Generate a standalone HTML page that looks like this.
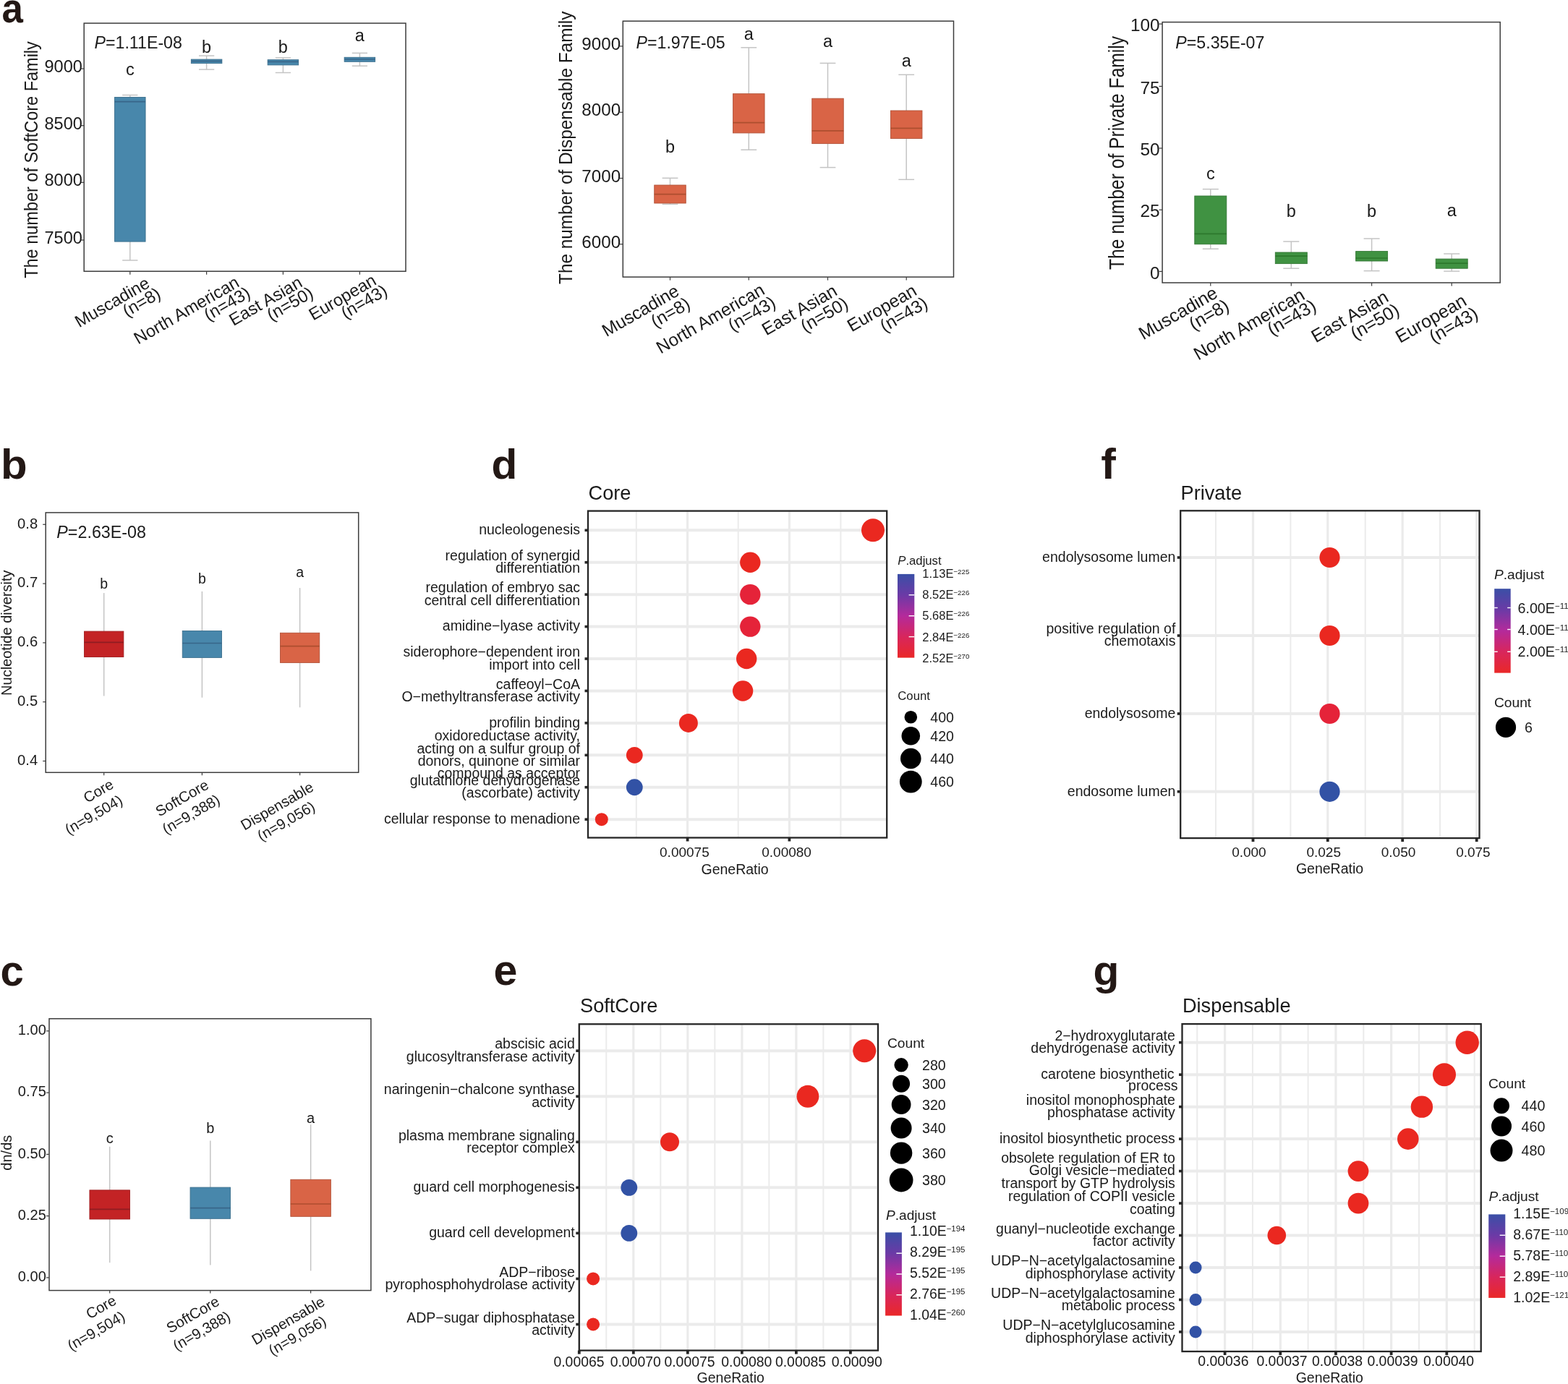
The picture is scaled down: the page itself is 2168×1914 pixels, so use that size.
<!DOCTYPE html><html><head><meta charset="utf-8"><title>Figure</title><style>html,body{margin:0;padding:0;background:#fff;}svg{display:block;font-family:"Liberation Sans",Arial,Helvetica,sans-serif;}</style></head><body>
<svg xmlns="http://www.w3.org/2000/svg" width="2168" height="1914" viewBox="0 0 2168 1914">
<rect x="0" y="0" width="2168" height="1914" fill="#ffffff"/>
<line x1="179.8" y1="131.5" x2="179.8" y2="134.5" stroke="#c4c4c4" stroke-width="1.5"/>
<line x1="179.8" y1="334.1" x2="179.8" y2="360" stroke="#c4c4c4" stroke-width="1.5"/>
<line x1="169.18" y1="131.5" x2="190.43" y2="131.5" stroke="#c4c4c4" stroke-width="1.5"/>
<line x1="169.18" y1="360" x2="190.43" y2="360" stroke="#c4c4c4" stroke-width="1.5"/>
<rect x="158.55" y="134.5" width="42.5" height="199.6" fill="#4887ab" stroke="#3b6e8c" stroke-width="0.9"/>
<line x1="158.55" y1="140.6" x2="201.05" y2="140.6" stroke="#386689" stroke-width="1.7"/>
<text x="179.8" y="104.4" font-size="23.5" text-anchor="middle" fill="#1a1a1a" >c</text>
<line x1="285.6" y1="77.1" x2="285.6" y2="82.1" stroke="#c4c4c4" stroke-width="1.5"/>
<line x1="285.6" y1="87.6" x2="285.6" y2="96.1" stroke="#c4c4c4" stroke-width="1.5"/>
<line x1="274.98" y1="77.1" x2="296.23" y2="77.1" stroke="#c4c4c4" stroke-width="1.5"/>
<line x1="274.98" y1="96.1" x2="296.23" y2="96.1" stroke="#c4c4c4" stroke-width="1.5"/>
<rect x="264.35" y="82.1" width="42.5" height="5.5" fill="#4887ab" stroke="#3b6e8c" stroke-width="0.9"/>
<line x1="264.35" y1="84.6" x2="306.85" y2="84.6" stroke="#386689" stroke-width="1.7"/>
<text x="285.6" y="73.2" font-size="23.5" text-anchor="middle" fill="#1a1a1a" >b</text>
<line x1="391.4" y1="79.9" x2="391.4" y2="82.7" stroke="#c4c4c4" stroke-width="1.5"/>
<line x1="391.4" y1="89.9" x2="391.4" y2="100.5" stroke="#c4c4c4" stroke-width="1.5"/>
<line x1="380.77" y1="79.9" x2="402.02" y2="79.9" stroke="#c4c4c4" stroke-width="1.5"/>
<line x1="380.77" y1="100.5" x2="402.02" y2="100.5" stroke="#c4c4c4" stroke-width="1.5"/>
<rect x="370.15" y="82.7" width="42.5" height="7.2" fill="#4887ab" stroke="#3b6e8c" stroke-width="0.9"/>
<line x1="370.15" y1="85.4" x2="412.65" y2="85.4" stroke="#386689" stroke-width="1.7"/>
<text x="391.4" y="72.7" font-size="23.5" text-anchor="middle" fill="#1a1a1a" >b</text>
<line x1="497.4" y1="73.4" x2="497.4" y2="79.3" stroke="#c4c4c4" stroke-width="1.5"/>
<line x1="497.4" y1="85.3" x2="497.4" y2="91.2" stroke="#c4c4c4" stroke-width="1.5"/>
<line x1="486.77" y1="73.4" x2="508.02" y2="73.4" stroke="#c4c4c4" stroke-width="1.5"/>
<line x1="486.77" y1="91.2" x2="508.02" y2="91.2" stroke="#c4c4c4" stroke-width="1.5"/>
<rect x="476.15" y="79.3" width="42.5" height="6" fill="#4887ab" stroke="#3b6e8c" stroke-width="0.9"/>
<line x1="476.15" y1="82" x2="518.65" y2="82" stroke="#386689" stroke-width="1.7"/>
<text x="497.4" y="57.3" font-size="23.5" text-anchor="middle" fill="#1a1a1a" >a</text>
<rect x="116.2" y="32.1" width="444.8" height="343.1" fill="none" stroke="#3c3c3c" stroke-width="1.5"/>
<line x1="111.7" y1="95" x2="116.2" y2="95" stroke="#3c3c3c" stroke-width="1.2"/>
<text x="113.8" y="99.9" font-size="23.5" text-anchor="end" fill="#1a1a1a" >9000</text>
<line x1="111.7" y1="173.7" x2="116.2" y2="173.7" stroke="#3c3c3c" stroke-width="1.2"/>
<text x="113.8" y="178.6" font-size="23.5" text-anchor="end" fill="#1a1a1a" >8500</text>
<line x1="111.7" y1="252.3" x2="116.2" y2="252.3" stroke="#3c3c3c" stroke-width="1.2"/>
<text x="113.8" y="257.2" font-size="23.5" text-anchor="end" fill="#1a1a1a" >8000</text>
<line x1="111.7" y1="332" x2="116.2" y2="332" stroke="#3c3c3c" stroke-width="1.2"/>
<text x="113.8" y="336.9" font-size="23.5" text-anchor="end" fill="#1a1a1a" >7500</text>
<line x1="179.8" y1="375.2" x2="179.8" y2="379.7" stroke="#3c3c3c" stroke-width="1.2"/>
<line x1="285.6" y1="375.2" x2="285.6" y2="379.7" stroke="#3c3c3c" stroke-width="1.2"/>
<line x1="391.4" y1="375.2" x2="391.4" y2="379.7" stroke="#3c3c3c" stroke-width="1.2"/>
<line x1="497.4" y1="375.2" x2="497.4" y2="379.7" stroke="#3c3c3c" stroke-width="1.2"/>
<text x="130.5" y="66.6" font-size="23.2" fill="#1a1a1a"><tspan font-style="italic">P</tspan>=1.11E-08</text>
<text transform="translate(51.6,221) rotate(-90) scale(1,1.1)" x="0" y="0" font-size="23.5" text-anchor="middle" fill="#1a1a1a">The number of SoftCore Family</text>
<g transform="translate(208.6,396.2) rotate(-30)"><text x="0" y="0" font-size="23.7" text-anchor="end" fill="#1a1a1a">Muscadine</text><text x="6" y="20.2" font-size="23.7" text-anchor="end" fill="#1a1a1a">(n=8)</text></g>
<g transform="translate(332.5,395.2) rotate(-30)"><text x="0" y="0" font-size="23.7" text-anchor="end" fill="#1a1a1a">North American</text><text x="6" y="20.2" font-size="23.7" text-anchor="end" fill="#1a1a1a">(n=43)</text></g>
<g transform="translate(419.6,395.2) rotate(-30)"><text x="0" y="0" font-size="23.7" text-anchor="end" fill="#1a1a1a">East Asian</text><text x="6" y="20.2" font-size="23.7" text-anchor="end" fill="#1a1a1a">(n=50)</text></g>
<g transform="translate(522,392.3) rotate(-30)"><text x="0" y="0" font-size="23.7" text-anchor="end" fill="#1a1a1a">European</text><text x="6" y="20.2" font-size="23.7" text-anchor="end" fill="#1a1a1a">(n=43)</text></g>
<line x1="926.5" y1="246.3" x2="926.5" y2="256" stroke="#c4c4c4" stroke-width="1.5"/>
<line x1="926.5" y1="281" x2="926.5" y2="282.3" stroke="#c4c4c4" stroke-width="1.5"/>
<line x1="915.62" y1="246.3" x2="937.38" y2="246.3" stroke="#c4c4c4" stroke-width="1.5"/>
<line x1="915.62" y1="282.3" x2="937.38" y2="282.3" stroke="#c4c4c4" stroke-width="1.5"/>
<rect x="904.75" y="256" width="43.5" height="25" fill="#d96446" stroke="#b15239" stroke-width="0.9"/>
<line x1="904.75" y1="268.7" x2="948.25" y2="268.7" stroke="#ad4e2f" stroke-width="1.7"/>
<text x="926.5" y="211.4" font-size="23.5" text-anchor="middle" fill="#1a1a1a" >b</text>
<line x1="1035.3" y1="65.8" x2="1035.3" y2="129.7" stroke="#c4c4c4" stroke-width="1.5"/>
<line x1="1035.3" y1="183.9" x2="1035.3" y2="207.2" stroke="#c4c4c4" stroke-width="1.5"/>
<line x1="1024.42" y1="65.8" x2="1046.17" y2="65.8" stroke="#c4c4c4" stroke-width="1.5"/>
<line x1="1024.42" y1="207.2" x2="1046.17" y2="207.2" stroke="#c4c4c4" stroke-width="1.5"/>
<rect x="1013.55" y="129.7" width="43.5" height="54.2" fill="#d96446" stroke="#b15239" stroke-width="0.9"/>
<line x1="1013.55" y1="169.7" x2="1057.05" y2="169.7" stroke="#ad4e2f" stroke-width="1.7"/>
<text x="1035.3" y="55.3" font-size="23.5" text-anchor="middle" fill="#1a1a1a" >a</text>
<line x1="1144.5" y1="87.4" x2="1144.5" y2="136.2" stroke="#c4c4c4" stroke-width="1.5"/>
<line x1="1144.5" y1="198.6" x2="1144.5" y2="231.6" stroke="#c4c4c4" stroke-width="1.5"/>
<line x1="1133.62" y1="87.4" x2="1155.38" y2="87.4" stroke="#c4c4c4" stroke-width="1.5"/>
<line x1="1133.62" y1="231.6" x2="1155.38" y2="231.6" stroke="#c4c4c4" stroke-width="1.5"/>
<rect x="1122.75" y="136.2" width="43.5" height="62.4" fill="#d96446" stroke="#b15239" stroke-width="0.9"/>
<line x1="1122.75" y1="180.8" x2="1166.25" y2="180.8" stroke="#ad4e2f" stroke-width="1.7"/>
<text x="1144.5" y="64.7" font-size="23.5" text-anchor="middle" fill="#1a1a1a" >a</text>
<line x1="1253.2" y1="103.3" x2="1253.2" y2="153" stroke="#c4c4c4" stroke-width="1.5"/>
<line x1="1253.2" y1="191.5" x2="1253.2" y2="248.3" stroke="#c4c4c4" stroke-width="1.5"/>
<line x1="1242.33" y1="103.3" x2="1264.08" y2="103.3" stroke="#c4c4c4" stroke-width="1.5"/>
<line x1="1242.33" y1="248.3" x2="1264.08" y2="248.3" stroke="#c4c4c4" stroke-width="1.5"/>
<rect x="1231.45" y="153" width="43.5" height="38.5" fill="#d96446" stroke="#b15239" stroke-width="0.9"/>
<line x1="1231.45" y1="177.4" x2="1274.95" y2="177.4" stroke="#ad4e2f" stroke-width="1.7"/>
<text x="1253.2" y="92.2" font-size="23.5" text-anchor="middle" fill="#1a1a1a" >a</text>
<rect x="861.3" y="29.2" width="457.2" height="353.9" fill="none" stroke="#3c3c3c" stroke-width="1.5"/>
<line x1="856.8" y1="63.9" x2="861.3" y2="63.9" stroke="#3c3c3c" stroke-width="1.2"/>
<text x="858.1" y="69.05" font-size="24.2" text-anchor="end" fill="#1a1a1a" >9000</text>
<line x1="856.8" y1="155.3" x2="861.3" y2="155.3" stroke="#3c3c3c" stroke-width="1.2"/>
<text x="858.1" y="160.45" font-size="24.2" text-anchor="end" fill="#1a1a1a" >8000</text>
<line x1="856.8" y1="246.5" x2="861.3" y2="246.5" stroke="#3c3c3c" stroke-width="1.2"/>
<text x="858.1" y="251.65" font-size="24.2" text-anchor="end" fill="#1a1a1a" >7000</text>
<line x1="856.8" y1="337.7" x2="861.3" y2="337.7" stroke="#3c3c3c" stroke-width="1.2"/>
<text x="858.1" y="342.85" font-size="24.2" text-anchor="end" fill="#1a1a1a" >6000</text>
<line x1="926.5" y1="383.1" x2="926.5" y2="387.6" stroke="#3c3c3c" stroke-width="1.2"/>
<line x1="1035.3" y1="383.1" x2="1035.3" y2="387.6" stroke="#3c3c3c" stroke-width="1.2"/>
<line x1="1144.5" y1="383.1" x2="1144.5" y2="387.6" stroke="#3c3c3c" stroke-width="1.2"/>
<line x1="1253.2" y1="383.1" x2="1253.2" y2="387.6" stroke="#3c3c3c" stroke-width="1.2"/>
<text x="879.5" y="66.7" font-size="23.2" fill="#1a1a1a"><tspan font-style="italic">P</tspan>=1.97E-05</text>
<text transform="translate(790.9,204.3) rotate(-90) scale(1,1.04)" x="0" y="0" font-size="24.35" text-anchor="middle" fill="#1a1a1a">The number of Dispensable Family</text>
<g transform="translate(940.7,407.3) rotate(-30)"><text x="0" y="0" font-size="24.4" text-anchor="end" fill="#1a1a1a">Muscadine</text><text x="4.5" y="22.8" font-size="24.4" text-anchor="end" fill="#1a1a1a">(n=8)</text></g>
<g transform="translate(1059,405.6) rotate(-30)"><text x="0" y="0" font-size="24.4" text-anchor="end" fill="#1a1a1a">North American</text><text x="4.5" y="22.8" font-size="24.4" text-anchor="end" fill="#1a1a1a">(n=43)</text></g>
<g transform="translate(1159.3,406.9) rotate(-30)"><text x="0" y="0" font-size="24.4" text-anchor="end" fill="#1a1a1a">East Asian</text><text x="4.5" y="22.8" font-size="24.4" text-anchor="end" fill="#1a1a1a">(n=50)</text></g>
<g transform="translate(1269.2,406.6) rotate(-30)"><text x="0" y="0" font-size="24.4" text-anchor="end" fill="#1a1a1a">European</text><text x="4.5" y="22.8" font-size="24.4" text-anchor="end" fill="#1a1a1a">(n=43)</text></g>
<line x1="1673.8" y1="261.6" x2="1673.8" y2="271" stroke="#c4c4c4" stroke-width="1.5"/>
<line x1="1673.8" y1="337.7" x2="1673.8" y2="344.2" stroke="#c4c4c4" stroke-width="1.5"/>
<line x1="1662.8" y1="261.6" x2="1684.8" y2="261.6" stroke="#c4c4c4" stroke-width="1.5"/>
<line x1="1662.8" y1="344.2" x2="1684.8" y2="344.2" stroke="#c4c4c4" stroke-width="1.5"/>
<rect x="1651.8" y="271" width="44" height="66.7" fill="#409242" stroke="#347736" stroke-width="0.9"/>
<line x1="1651.8" y1="323.4" x2="1695.8" y2="323.4" stroke="#2d782d" stroke-width="1.7"/>
<text x="1673.8" y="248.3" font-size="23.5" text-anchor="middle" fill="#1a1a1a" >c</text>
<line x1="1785.3" y1="334" x2="1785.3" y2="349" stroke="#c4c4c4" stroke-width="1.5"/>
<line x1="1785.3" y1="364.6" x2="1785.3" y2="371.2" stroke="#c4c4c4" stroke-width="1.5"/>
<line x1="1774.3" y1="334" x2="1796.3" y2="334" stroke="#c4c4c4" stroke-width="1.5"/>
<line x1="1774.3" y1="371.2" x2="1796.3" y2="371.2" stroke="#c4c4c4" stroke-width="1.5"/>
<rect x="1763.3" y="349" width="44" height="15.6" fill="#409242" stroke="#347736" stroke-width="0.9"/>
<line x1="1763.3" y1="354.1" x2="1807.3" y2="354.1" stroke="#2d782d" stroke-width="1.7"/>
<text x="1785.3" y="300" font-size="23.5" text-anchor="middle" fill="#1a1a1a" >b</text>
<line x1="1896.6" y1="330" x2="1896.6" y2="347.6" stroke="#c4c4c4" stroke-width="1.5"/>
<line x1="1896.6" y1="361" x2="1896.6" y2="374.6" stroke="#c4c4c4" stroke-width="1.5"/>
<line x1="1885.6" y1="330" x2="1907.6" y2="330" stroke="#c4c4c4" stroke-width="1.5"/>
<line x1="1885.6" y1="374.6" x2="1907.6" y2="374.6" stroke="#c4c4c4" stroke-width="1.5"/>
<rect x="1874.6" y="347.6" width="44" height="13.4" fill="#409242" stroke="#347736" stroke-width="0.9"/>
<line x1="1874.6" y1="357" x2="1918.6" y2="357" stroke="#2d782d" stroke-width="1.7"/>
<text x="1896.6" y="300" font-size="23.5" text-anchor="middle" fill="#1a1a1a" >b</text>
<line x1="2007.2" y1="351" x2="2007.2" y2="358.1" stroke="#c4c4c4" stroke-width="1.5"/>
<line x1="2007.2" y1="371.2" x2="2007.2" y2="375.1" stroke="#c4c4c4" stroke-width="1.5"/>
<line x1="1996.2" y1="351" x2="2018.2" y2="351" stroke="#c4c4c4" stroke-width="1.5"/>
<line x1="1996.2" y1="375.1" x2="2018.2" y2="375.1" stroke="#c4c4c4" stroke-width="1.5"/>
<rect x="1985.2" y="358.1" width="44" height="13.1" fill="#409242" stroke="#347736" stroke-width="0.9"/>
<line x1="1985.2" y1="364.1" x2="2029.2" y2="364.1" stroke="#2d782d" stroke-width="1.7"/>
<text x="2007.2" y="299.4" font-size="23.5" text-anchor="middle" fill="#1a1a1a" >a</text>
<rect x="1607.1" y="30.6" width="467.1" height="360.4" fill="none" stroke="#3c3c3c" stroke-width="1.5"/>
<line x1="1602.6" y1="33.1" x2="1607.1" y2="33.1" stroke="#3c3c3c" stroke-width="1.2"/>
<text x="1603.6" y="43.2" font-size="24.4" text-anchor="end" fill="#1a1a1a" >100</text>
<line x1="1602.6" y1="119.4" x2="1607.1" y2="119.4" stroke="#3c3c3c" stroke-width="1.2"/>
<text x="1603.6" y="129.5" font-size="24.4" text-anchor="end" fill="#1a1a1a" >75</text>
<line x1="1602.6" y1="205" x2="1607.1" y2="205" stroke="#3c3c3c" stroke-width="1.2"/>
<text x="1603.6" y="215.1" font-size="24.4" text-anchor="end" fill="#1a1a1a" >50</text>
<line x1="1602.6" y1="290.2" x2="1607.1" y2="290.2" stroke="#3c3c3c" stroke-width="1.2"/>
<text x="1603.6" y="300.3" font-size="24.4" text-anchor="end" fill="#1a1a1a" >25</text>
<line x1="1602.6" y1="375.4" x2="1607.1" y2="375.4" stroke="#3c3c3c" stroke-width="1.2"/>
<text x="1603.6" y="385.5" font-size="24.4" text-anchor="end" fill="#1a1a1a" >0</text>
<line x1="1673.8" y1="391" x2="1673.8" y2="395.5" stroke="#3c3c3c" stroke-width="1.2"/>
<line x1="1785.3" y1="391" x2="1785.3" y2="395.5" stroke="#3c3c3c" stroke-width="1.2"/>
<line x1="1896.6" y1="391" x2="1896.6" y2="395.5" stroke="#3c3c3c" stroke-width="1.2"/>
<line x1="2007.2" y1="391" x2="2007.2" y2="395.5" stroke="#3c3c3c" stroke-width="1.2"/>
<text x="1625.3" y="66.7" font-size="23.2" fill="#1a1a1a"><tspan font-style="italic">P</tspan>=5.35E-07</text>
<text transform="translate(1553.9,211.4) rotate(-90) scale(1,1.18)" x="0" y="0" font-size="24.65" text-anchor="middle" fill="#1a1a1a">The number of Private Family</text>
<g transform="translate(1685.4,410.1) rotate(-30)"><text x="0" y="0" font-size="25" text-anchor="end" fill="#1a1a1a">Muscadine</text><text x="5" y="23.2" font-size="25" text-anchor="end" fill="#1a1a1a">(n=8)</text></g>
<g transform="translate(1805.9,412.7) rotate(-30)"><text x="0" y="0" font-size="25" text-anchor="end" fill="#1a1a1a">North American</text><text x="6" y="21" font-size="25" text-anchor="end" fill="#1a1a1a">(n=43)</text></g>
<g transform="translate(1921.6,415.5) rotate(-30)"><text x="0" y="0" font-size="25" text-anchor="end" fill="#1a1a1a">East Asian</text><text x="4" y="23.2" font-size="25" text-anchor="end" fill="#1a1a1a">(n=50)</text></g>
<g transform="translate(2029.6,420.8) rotate(-30)"><text x="0" y="0" font-size="25" text-anchor="end" fill="#1a1a1a">European</text><text x="5" y="23.2" font-size="25" text-anchor="end" fill="#1a1a1a">(n=43)</text></g>
<line x1="143.7" y1="820.1" x2="143.7" y2="873.1" stroke="#c4c4c4" stroke-width="1.5"/>
<line x1="143.7" y1="908.5" x2="143.7" y2="962.5" stroke="#c4c4c4" stroke-width="1.5"/>
<rect x="116.55" y="873.1" width="54.3" height="35.4" fill="#c32325" stroke="#9f1c1e" stroke-width="0.9"/>
<line x1="116.55" y1="888.3" x2="170.85" y2="888.3" stroke="#8f1d22" stroke-width="1.7"/>
<text x="143.7" y="814.1" font-size="19.5" text-anchor="middle" fill="#1a1a1a" >b</text>
<line x1="279.4" y1="817.9" x2="279.4" y2="872.5" stroke="#c4c4c4" stroke-width="1.5"/>
<line x1="279.4" y1="909.4" x2="279.4" y2="964.7" stroke="#c4c4c4" stroke-width="1.5"/>
<rect x="252.25" y="872.5" width="54.3" height="36.9" fill="#4887ab" stroke="#3b6e8c" stroke-width="0.9"/>
<line x1="252.25" y1="889.5" x2="306.55" y2="889.5" stroke="#386689" stroke-width="1.7"/>
<text x="279.4" y="806.8" font-size="19.5" text-anchor="middle" fill="#1a1a1a" >b</text>
<line x1="414.6" y1="813.1" x2="414.6" y2="875.3" stroke="#c4c4c4" stroke-width="1.5"/>
<line x1="414.6" y1="916.4" x2="414.6" y2="978.3" stroke="#c4c4c4" stroke-width="1.5"/>
<rect x="387.45" y="875.3" width="54.3" height="41.1" fill="#d96446" stroke="#b15239" stroke-width="0.9"/>
<line x1="387.45" y1="893.6" x2="441.75" y2="893.6" stroke="#ad4e2f" stroke-width="1.7"/>
<text x="414.6" y="798.3" font-size="19.5" text-anchor="middle" fill="#1a1a1a" >a</text>
<rect x="63.2" y="708.9" width="432.5" height="359.4" fill="none" stroke="#3c3c3c" stroke-width="1.5"/>
<line x1="59.2" y1="725.3" x2="63.2" y2="725.3" stroke="#3c3c3c" stroke-width="1.2"/>
<text x="52.2" y="730.6" font-size="20.2" text-anchor="end" fill="#1a1a1a" >0.8</text>
<line x1="59.2" y1="807.1" x2="63.2" y2="807.1" stroke="#3c3c3c" stroke-width="1.2"/>
<text x="52.2" y="812.4" font-size="20.2" text-anchor="end" fill="#1a1a1a" >0.7</text>
<line x1="59.2" y1="888.9" x2="63.2" y2="888.9" stroke="#3c3c3c" stroke-width="1.2"/>
<text x="52.2" y="894.2" font-size="20.2" text-anchor="end" fill="#1a1a1a" >0.6</text>
<line x1="59.2" y1="970.7" x2="63.2" y2="970.7" stroke="#3c3c3c" stroke-width="1.2"/>
<text x="52.2" y="976" font-size="20.2" text-anchor="end" fill="#1a1a1a" >0.5</text>
<line x1="59.2" y1="1052.5" x2="63.2" y2="1052.5" stroke="#3c3c3c" stroke-width="1.2"/>
<text x="52.2" y="1057.8" font-size="20.2" text-anchor="end" fill="#1a1a1a" >0.4</text>
<line x1="143.7" y1="1068.3" x2="143.7" y2="1072.3" stroke="#3c3c3c" stroke-width="1.2"/>
<line x1="279.4" y1="1068.3" x2="279.4" y2="1072.3" stroke="#3c3c3c" stroke-width="1.2"/>
<line x1="414.6" y1="1068.3" x2="414.6" y2="1072.3" stroke="#3c3c3c" stroke-width="1.2"/>
<text x="78.3" y="743.7" font-size="23.3" fill="#1a1a1a"><tspan font-style="italic">P</tspan>=2.63E-08</text>
<text transform="translate(16,875.2) rotate(-90) scale(1,1.0)" x="0" y="0" font-size="20" text-anchor="middle" fill="#1a1a1a">Nucleotide diversity</text>
<g transform="translate(158.7,1088.8) rotate(-30)"><text x="0" y="0" font-size="20.4" text-anchor="end" fill="#1a1a1a">Core</text><text x="-0.3" y="25.2" font-size="20.4" text-anchor="end" fill="#1a1a1a">(n=9,504)</text></g>
<g transform="translate(290,1089.5) rotate(-30)"><text x="0" y="0" font-size="20.4" text-anchor="end" fill="#1a1a1a">SoftCore</text><text x="3.3" y="25.7" font-size="20.4" text-anchor="end" fill="#1a1a1a">(n=9,388)</text></g>
<g transform="translate(435.1,1092.7) rotate(-30)"><text x="0" y="0" font-size="20.4" text-anchor="end" fill="#1a1a1a">Dispensable</text><text x="-11.6" y="24.3" font-size="20.4" text-anchor="end" fill="#1a1a1a">(n=9,056)</text></g>
<line x1="151.7" y1="1585.7" x2="151.7" y2="1645.9" stroke="#c4c4c4" stroke-width="1.5"/>
<line x1="151.7" y1="1686" x2="151.7" y2="1746.2" stroke="#c4c4c4" stroke-width="1.5"/>
<rect x="123.95" y="1645.9" width="55.5" height="40.1" fill="#c32325" stroke="#9f1c1e" stroke-width="0.9"/>
<line x1="123.95" y1="1672.4" x2="179.45" y2="1672.4" stroke="#8f1d22" stroke-width="1.7"/>
<text x="151.7" y="1580.6" font-size="20" text-anchor="middle" fill="#1a1a1a" >c</text>
<line x1="290.8" y1="1577.5" x2="290.8" y2="1642.1" stroke="#c4c4c4" stroke-width="1.5"/>
<line x1="290.8" y1="1685.3" x2="290.8" y2="1749.6" stroke="#c4c4c4" stroke-width="1.5"/>
<rect x="263.05" y="1642.1" width="55.5" height="43.2" fill="#4887ab" stroke="#3b6e8c" stroke-width="0.9"/>
<line x1="263.05" y1="1670.7" x2="318.55" y2="1670.7" stroke="#386689" stroke-width="1.7"/>
<text x="290.8" y="1567" font-size="20" text-anchor="middle" fill="#1a1a1a" >b</text>
<line x1="429.6" y1="1555.1" x2="429.6" y2="1631.3" stroke="#c4c4c4" stroke-width="1.5"/>
<line x1="429.6" y1="1682.3" x2="429.6" y2="1757.4" stroke="#c4c4c4" stroke-width="1.5"/>
<rect x="401.85" y="1631.3" width="55.5" height="51" fill="#d96446" stroke="#b15239" stroke-width="0.9"/>
<line x1="401.85" y1="1665" x2="457.35" y2="1665" stroke="#ad4e2f" stroke-width="1.7"/>
<text x="429.6" y="1553.4" font-size="20" text-anchor="middle" fill="#1a1a1a" >a</text>
<rect x="68" y="1408.8" width="444.9" height="375.8" fill="none" stroke="#3c3c3c" stroke-width="1.5"/>
<line x1="64" y1="1425.8" x2="68" y2="1425.8" stroke="#3c3c3c" stroke-width="1.2"/>
<text x="63.8" y="1431.1" font-size="20" text-anchor="end" fill="#1a1a1a" >1.00</text>
<line x1="64" y1="1511.1" x2="68" y2="1511.1" stroke="#3c3c3c" stroke-width="1.2"/>
<text x="63.8" y="1516.4" font-size="20" text-anchor="end" fill="#1a1a1a" >0.75</text>
<line x1="64" y1="1596.4" x2="68" y2="1596.4" stroke="#3c3c3c" stroke-width="1.2"/>
<text x="63.8" y="1601.7" font-size="20" text-anchor="end" fill="#1a1a1a" >0.50</text>
<line x1="64" y1="1681.6" x2="68" y2="1681.6" stroke="#3c3c3c" stroke-width="1.2"/>
<text x="63.8" y="1686.9" font-size="20" text-anchor="end" fill="#1a1a1a" >0.25</text>
<line x1="64" y1="1766.9" x2="68" y2="1766.9" stroke="#3c3c3c" stroke-width="1.2"/>
<text x="63.8" y="1772.2" font-size="20" text-anchor="end" fill="#1a1a1a" >0.00</text>
<line x1="151.7" y1="1784.6" x2="151.7" y2="1788.6" stroke="#3c3c3c" stroke-width="1.2"/>
<line x1="290.8" y1="1784.6" x2="290.8" y2="1788.6" stroke="#3c3c3c" stroke-width="1.2"/>
<line x1="429.6" y1="1784.6" x2="429.6" y2="1788.6" stroke="#3c3c3c" stroke-width="1.2"/>
<text x="-100" y="-100" font-size="1" fill="#1a1a1a"><tspan font-style="italic">P</tspan>=</text>
<text transform="translate(16,1594.2) rotate(-90) scale(1,1.0)" x="0" y="0" font-size="20" text-anchor="middle" fill="#1a1a1a">dn/ds</text>
<g transform="translate(162.3,1802.6) rotate(-30)"><text x="0" y="0" font-size="20.4" text-anchor="end" fill="#1a1a1a">Core</text><text x="-0.4" y="25.1" font-size="20.4" text-anchor="end" fill="#1a1a1a">(n=9,504)</text></g>
<g transform="translate(304.9,1803.9) rotate(-30)"><text x="0" y="0" font-size="20.4" text-anchor="end" fill="#1a1a1a">SoftCore</text><text x="3" y="25.5" font-size="20.4" text-anchor="end" fill="#1a1a1a">(n=9,388)</text></g>
<g transform="translate(450.5,1804.4) rotate(-30)"><text x="0" y="0" font-size="20.4" text-anchor="end" fill="#1a1a1a">Dispensable</text><text x="-11.5" y="24.2" font-size="20.4" text-anchor="end" fill="#1a1a1a">(n=9,056)</text></g>
<line x1="879.8" y1="706.6" x2="879.8" y2="1158.5" stroke="#ebebeb" stroke-width="2"/>
<line x1="1020.7" y1="706.6" x2="1020.7" y2="1158.5" stroke="#ebebeb" stroke-width="2"/>
<line x1="1162.4" y1="706.6" x2="1162.4" y2="1158.5" stroke="#ebebeb" stroke-width="2"/>
<line x1="950.6" y1="706.6" x2="950.6" y2="1158.5" stroke="#ebebeb" stroke-width="3.2"/>
<line x1="1091.4" y1="706.6" x2="1091.4" y2="1158.5" stroke="#ebebeb" stroke-width="3.2"/>
<line x1="813" y1="733.3" x2="1226.2" y2="733.3" stroke="#ebebeb" stroke-width="4"/>
<line x1="813" y1="777.73" x2="1226.2" y2="777.73" stroke="#ebebeb" stroke-width="4"/>
<line x1="813" y1="822.16" x2="1226.2" y2="822.16" stroke="#ebebeb" stroke-width="4"/>
<line x1="813" y1="866.59" x2="1226.2" y2="866.59" stroke="#ebebeb" stroke-width="4"/>
<line x1="813" y1="911.02" x2="1226.2" y2="911.02" stroke="#ebebeb" stroke-width="4"/>
<line x1="813" y1="955.45" x2="1226.2" y2="955.45" stroke="#ebebeb" stroke-width="4"/>
<line x1="813" y1="999.88" x2="1226.2" y2="999.88" stroke="#ebebeb" stroke-width="4"/>
<line x1="813" y1="1044.31" x2="1226.2" y2="1044.31" stroke="#ebebeb" stroke-width="4"/>
<line x1="813" y1="1088.74" x2="1226.2" y2="1088.74" stroke="#ebebeb" stroke-width="4"/>
<line x1="813" y1="1133.17" x2="1226.2" y2="1133.17" stroke="#ebebeb" stroke-width="4"/>
<circle cx="1207" cy="733.3" r="16" fill="#ea2820"/>
<circle cx="1037.3" cy="777.73" r="14.2" fill="#ea2820"/>
<circle cx="1037.3" cy="822.16" r="14.2" fill="#e52339"/>
<circle cx="1037.3" cy="866.59" r="14.2" fill="#e52339"/>
<circle cx="1032.2" cy="911.02" r="14.2" fill="#ea2820"/>
<circle cx="1027.1" cy="955.45" r="14.2" fill="#ea2820"/>
<circle cx="951.9" cy="999.88" r="13" fill="#ea2820"/>
<circle cx="877.3" cy="1044.31" r="11.4" fill="#ea2820"/>
<circle cx="877.3" cy="1088.74" r="11.4" fill="#3252a5"/>
<circle cx="831.8" cy="1133.17" r="9" fill="#ea2820"/>
<rect x="813" y="706.6" width="413.2" height="451.9" fill="none" stroke="#262626" stroke-width="2.3"/>
<line x1="808.5" y1="733.3" x2="813" y2="733.3" stroke="#262626" stroke-width="3.6"/>
<line x1="808.5" y1="777.73" x2="813" y2="777.73" stroke="#262626" stroke-width="3.6"/>
<line x1="808.5" y1="822.16" x2="813" y2="822.16" stroke="#262626" stroke-width="3.6"/>
<line x1="808.5" y1="866.59" x2="813" y2="866.59" stroke="#262626" stroke-width="3.6"/>
<line x1="808.5" y1="911.02" x2="813" y2="911.02" stroke="#262626" stroke-width="3.6"/>
<line x1="808.5" y1="955.45" x2="813" y2="955.45" stroke="#262626" stroke-width="3.6"/>
<line x1="808.5" y1="999.88" x2="813" y2="999.88" stroke="#262626" stroke-width="3.6"/>
<line x1="808.5" y1="1044.31" x2="813" y2="1044.31" stroke="#262626" stroke-width="3.6"/>
<line x1="808.5" y1="1088.74" x2="813" y2="1088.74" stroke="#262626" stroke-width="3.6"/>
<line x1="808.5" y1="1133.17" x2="813" y2="1133.17" stroke="#262626" stroke-width="3.6"/>
<line x1="950.6" y1="1158.5" x2="950.6" y2="1163.5" stroke="#262626" stroke-width="3.8"/>
<line x1="1091.4" y1="1158.5" x2="1091.4" y2="1163.5" stroke="#262626" stroke-width="3.8"/>
<text x="802" y="739.2" font-size="19.5" text-anchor="end" fill="#1a1a1a" >nucleologenesis</text>
<text x="802" y="774.93" font-size="19.5" text-anchor="end" fill="#1a1a1a" >regulation of synergid</text>
<text x="802" y="792.33" font-size="19.5" text-anchor="end" fill="#1a1a1a" >differentiation</text>
<text x="802" y="819.36" font-size="19.5" text-anchor="end" fill="#1a1a1a" >regulation of embryo sac</text>
<text x="802" y="836.76" font-size="19.5" text-anchor="end" fill="#1a1a1a" >central cell differentiation</text>
<text x="802" y="872.49" font-size="19.5" text-anchor="end" fill="#1a1a1a" >amidine−lyase activity</text>
<text x="802" y="908.22" font-size="19.5" text-anchor="end" fill="#1a1a1a" >siderophore−dependent iron</text>
<text x="802" y="925.62" font-size="19.5" text-anchor="end" fill="#1a1a1a" >import into cell</text>
<text x="802" y="952.65" font-size="19.5" text-anchor="end" fill="#1a1a1a" >caffeoyl−CoA</text>
<text x="802" y="970.05" font-size="19.5" text-anchor="end" fill="#1a1a1a" >O−methyltransferase activity</text>
<text x="802" y="1005.78" font-size="19.5" text-anchor="end" fill="#1a1a1a" >profilin binding</text>
<text x="802" y="1024.11" font-size="19.5" text-anchor="end" fill="#1a1a1a" >oxidoreductase activity,</text>
<text x="802" y="1041.51" font-size="19.5" text-anchor="end" fill="#1a1a1a" >acting on a sulfur group of</text>
<text x="802" y="1058.91" font-size="19.5" text-anchor="end" fill="#1a1a1a" >donors, quinone or similar</text>
<text x="802" y="1076.31" font-size="19.5" text-anchor="end" fill="#1a1a1a" >compound as acceptor</text>
<text x="802" y="1085.94" font-size="19.5" text-anchor="end" fill="#1a1a1a" >glutathione dehydrogenase</text>
<text x="802" y="1103.34" font-size="19.5" text-anchor="end" fill="#1a1a1a" >(ascorbate) activity</text>
<text x="802" y="1139.07" font-size="19.5" text-anchor="end" fill="#1a1a1a" >cellular response to menadione</text>
<text x="946.4" y="1185.3" font-size="19" text-anchor="middle" fill="#1a1a1a" >0.00075</text>
<text x="1087.6" y="1185.3" font-size="19" text-anchor="middle" fill="#1a1a1a" >0.00080</text>
<text x="1016.1" y="1209" font-size="19.5" text-anchor="middle" fill="#1a1a1a" >GeneRatio</text>
<text x="813.5" y="691.4" font-size="27.2" text-anchor="start" fill="#1a1a1a" >Core</text>
<line x1="1681" y1="706.3" x2="1681" y2="1159.1" stroke="#ebebeb" stroke-width="2"/>
<line x1="1784.4" y1="706.3" x2="1784.4" y2="1159.1" stroke="#ebebeb" stroke-width="2"/>
<line x1="1887.7" y1="706.3" x2="1887.7" y2="1159.1" stroke="#ebebeb" stroke-width="2"/>
<line x1="1991" y1="706.3" x2="1991" y2="1159.1" stroke="#ebebeb" stroke-width="2"/>
<line x1="1732.5" y1="706.3" x2="1732.5" y2="1159.1" stroke="#ebebeb" stroke-width="3.2"/>
<line x1="1835.8" y1="706.3" x2="1835.8" y2="1159.1" stroke="#ebebeb" stroke-width="3.2"/>
<line x1="1939.2" y1="706.3" x2="1939.2" y2="1159.1" stroke="#ebebeb" stroke-width="3.2"/>
<line x1="2041.7" y1="706.3" x2="2041.7" y2="1159.1" stroke="#ebebeb" stroke-width="3.2"/>
<line x1="1632.2" y1="771" x2="2045.5" y2="771" stroke="#ebebeb" stroke-width="4"/>
<line x1="1632.2" y1="879" x2="2045.5" y2="879" stroke="#ebebeb" stroke-width="4"/>
<line x1="1632.2" y1="987" x2="2045.5" y2="987" stroke="#ebebeb" stroke-width="4"/>
<line x1="1632.2" y1="1094.8" x2="2045.5" y2="1094.8" stroke="#ebebeb" stroke-width="4"/>
<circle cx="1838.5" cy="771" r="14.1" fill="#ea2820"/>
<circle cx="1838.5" cy="879" r="14.1" fill="#ea2820"/>
<circle cx="1838.5" cy="987" r="14.1" fill="#e52339"/>
<circle cx="1838.5" cy="1094.8" r="14.1" fill="#3252a5"/>
<rect x="1632.2" y="706.3" width="413.3" height="452.8" fill="none" stroke="#262626" stroke-width="2.3"/>
<line x1="1627.7" y1="771" x2="1632.2" y2="771" stroke="#262626" stroke-width="3.6"/>
<line x1="1627.7" y1="879" x2="1632.2" y2="879" stroke="#262626" stroke-width="3.6"/>
<line x1="1627.7" y1="987" x2="1632.2" y2="987" stroke="#262626" stroke-width="3.6"/>
<line x1="1627.7" y1="1094.8" x2="1632.2" y2="1094.8" stroke="#262626" stroke-width="3.6"/>
<line x1="1732.5" y1="1159.1" x2="1732.5" y2="1164.1" stroke="#262626" stroke-width="3.8"/>
<line x1="1835.8" y1="1159.1" x2="1835.8" y2="1164.1" stroke="#262626" stroke-width="3.8"/>
<line x1="1939.2" y1="1159.1" x2="1939.2" y2="1164.1" stroke="#262626" stroke-width="3.8"/>
<line x1="2041.7" y1="1159.1" x2="2041.7" y2="1164.1" stroke="#262626" stroke-width="3.8"/>
<text x="1625.4" y="776.9" font-size="19.5" text-anchor="end" fill="#1a1a1a" >endolysosome lumen</text>
<text x="1625.4" y="876.4" font-size="19.5" text-anchor="end" fill="#1a1a1a" >positive regulation of</text>
<text x="1625.4" y="893.4" font-size="19.5" text-anchor="end" fill="#1a1a1a" >chemotaxis</text>
<text x="1625.4" y="992.9" font-size="19.5" text-anchor="end" fill="#1a1a1a" >endolysosome</text>
<text x="1625.4" y="1100.7" font-size="19.5" text-anchor="end" fill="#1a1a1a" >endosome lumen</text>
<text x="1726.9" y="1185" font-size="19" text-anchor="middle" fill="#1a1a1a" >0.000</text>
<text x="1830.2" y="1185" font-size="19" text-anchor="middle" fill="#1a1a1a" >0.025</text>
<text x="1933.5" y="1185" font-size="19" text-anchor="middle" fill="#1a1a1a" >0.050</text>
<text x="2036.9" y="1185" font-size="19" text-anchor="middle" fill="#1a1a1a" >0.075</text>
<text x="1838.5" y="1208" font-size="19.5" text-anchor="middle" fill="#1a1a1a" >GeneRatio</text>
<text x="1632.5" y="691.3" font-size="27.2" text-anchor="start" fill="#1a1a1a" >Private</text>
<line x1="838.31" y1="1416.3" x2="838.31" y2="1867.6" stroke="#ebebeb" stroke-width="2"/>
<line x1="913.33" y1="1416.3" x2="913.33" y2="1867.6" stroke="#ebebeb" stroke-width="2"/>
<line x1="988.35" y1="1416.3" x2="988.35" y2="1867.6" stroke="#ebebeb" stroke-width="2"/>
<line x1="1063.37" y1="1416.3" x2="1063.37" y2="1867.6" stroke="#ebebeb" stroke-width="2"/>
<line x1="1138.39" y1="1416.3" x2="1138.39" y2="1867.6" stroke="#ebebeb" stroke-width="2"/>
<line x1="1213.41" y1="1416.3" x2="1213.41" y2="1867.6" stroke="#ebebeb" stroke-width="2"/>
<line x1="800.8" y1="1416.3" x2="800.8" y2="1867.6" stroke="#ebebeb" stroke-width="3.2"/>
<line x1="875.82" y1="1416.3" x2="875.82" y2="1867.6" stroke="#ebebeb" stroke-width="3.2"/>
<line x1="950.84" y1="1416.3" x2="950.84" y2="1867.6" stroke="#ebebeb" stroke-width="3.2"/>
<line x1="1025.86" y1="1416.3" x2="1025.86" y2="1867.6" stroke="#ebebeb" stroke-width="3.2"/>
<line x1="1100.88" y1="1416.3" x2="1100.88" y2="1867.6" stroke="#ebebeb" stroke-width="3.2"/>
<line x1="1175.9" y1="1416.3" x2="1175.9" y2="1867.6" stroke="#ebebeb" stroke-width="3.2"/>
<line x1="800.8" y1="1453.2" x2="1214" y2="1453.2" stroke="#ebebeb" stroke-width="4"/>
<line x1="800.8" y1="1516.25" x2="1214" y2="1516.25" stroke="#ebebeb" stroke-width="4"/>
<line x1="800.8" y1="1579.3" x2="1214" y2="1579.3" stroke="#ebebeb" stroke-width="4"/>
<line x1="800.8" y1="1642.35" x2="1214" y2="1642.35" stroke="#ebebeb" stroke-width="4"/>
<line x1="800.8" y1="1705.4" x2="1214" y2="1705.4" stroke="#ebebeb" stroke-width="4"/>
<line x1="800.8" y1="1768.45" x2="1214" y2="1768.45" stroke="#ebebeb" stroke-width="4"/>
<line x1="800.8" y1="1831.5" x2="1214" y2="1831.5" stroke="#ebebeb" stroke-width="4"/>
<circle cx="1195.2" cy="1453.2" r="16" fill="#ea2820"/>
<circle cx="1116.9" cy="1516.25" r="15.4" fill="#ea2820"/>
<circle cx="926" cy="1579.3" r="13" fill="#ea2820"/>
<circle cx="869.8" cy="1642.35" r="11.4" fill="#3252a5"/>
<circle cx="869.8" cy="1705.4" r="11.4" fill="#3252a5"/>
<circle cx="820.1" cy="1768.45" r="9" fill="#ea2820"/>
<circle cx="820.1" cy="1831.5" r="9" fill="#ea2820"/>
<rect x="800.8" y="1416.3" width="413.2" height="451.3" fill="none" stroke="#262626" stroke-width="2.3"/>
<line x1="796.3" y1="1453.2" x2="800.8" y2="1453.2" stroke="#262626" stroke-width="3.6"/>
<line x1="796.3" y1="1516.25" x2="800.8" y2="1516.25" stroke="#262626" stroke-width="3.6"/>
<line x1="796.3" y1="1579.3" x2="800.8" y2="1579.3" stroke="#262626" stroke-width="3.6"/>
<line x1="796.3" y1="1642.35" x2="800.8" y2="1642.35" stroke="#262626" stroke-width="3.6"/>
<line x1="796.3" y1="1705.4" x2="800.8" y2="1705.4" stroke="#262626" stroke-width="3.6"/>
<line x1="796.3" y1="1768.45" x2="800.8" y2="1768.45" stroke="#262626" stroke-width="3.6"/>
<line x1="796.3" y1="1831.5" x2="800.8" y2="1831.5" stroke="#262626" stroke-width="3.6"/>
<line x1="800.8" y1="1867.6" x2="800.8" y2="1872.6" stroke="#262626" stroke-width="3.8"/>
<line x1="875.82" y1="1867.6" x2="875.82" y2="1872.6" stroke="#262626" stroke-width="3.8"/>
<line x1="950.84" y1="1867.6" x2="950.84" y2="1872.6" stroke="#262626" stroke-width="3.8"/>
<line x1="1025.86" y1="1867.6" x2="1025.86" y2="1872.6" stroke="#262626" stroke-width="3.8"/>
<line x1="1100.88" y1="1867.6" x2="1100.88" y2="1872.6" stroke="#262626" stroke-width="3.8"/>
<line x1="1175.9" y1="1867.6" x2="1175.9" y2="1872.6" stroke="#262626" stroke-width="3.8"/>
<text x="794.8" y="1450.4" font-size="19.5" text-anchor="end" fill="#1a1a1a" >abscisic acid</text>
<text x="794.8" y="1467.8" font-size="19.5" text-anchor="end" fill="#1a1a1a" >glucosyltransferase activity</text>
<text x="794.8" y="1513.45" font-size="19.5" text-anchor="end" fill="#1a1a1a" >naringenin−chalcone synthase</text>
<text x="794.8" y="1530.85" font-size="19.5" text-anchor="end" fill="#1a1a1a" >activity</text>
<text x="794.8" y="1576.5" font-size="19.5" text-anchor="end" fill="#1a1a1a" >plasma membrane signaling</text>
<text x="794.8" y="1593.9" font-size="19.5" text-anchor="end" fill="#1a1a1a" >receptor complex</text>
<text x="794.8" y="1648.25" font-size="19.5" text-anchor="end" fill="#1a1a1a" >guard cell morphogenesis</text>
<text x="794.8" y="1711.3" font-size="19.5" text-anchor="end" fill="#1a1a1a" >guard cell development</text>
<text x="794.8" y="1765.65" font-size="19.5" text-anchor="end" fill="#1a1a1a" >ADP−ribose</text>
<text x="794.8" y="1783.05" font-size="19.5" text-anchor="end" fill="#1a1a1a" >pyrophosphohydrolase activity</text>
<text x="794.8" y="1828.7" font-size="19.5" text-anchor="end" fill="#1a1a1a" >ADP−sugar diphosphatase</text>
<text x="794.8" y="1846.1" font-size="19.5" text-anchor="end" fill="#1a1a1a" >activity</text>
<text x="800.5" y="1890" font-size="19.4" text-anchor="middle" fill="#1a1a1a" >0.00065</text>
<text x="878.7" y="1890" font-size="19.4" text-anchor="middle" fill="#1a1a1a" >0.00070</text>
<text x="953.5" y="1890" font-size="19.4" text-anchor="middle" fill="#1a1a1a" >0.00075</text>
<text x="1032.3" y="1890" font-size="19.4" text-anchor="middle" fill="#1a1a1a" >0.00080</text>
<text x="1107" y="1890" font-size="19.4" text-anchor="middle" fill="#1a1a1a" >0.00085</text>
<text x="1184.8" y="1890" font-size="19.4" text-anchor="middle" fill="#1a1a1a" >0.00090</text>
<text x="1010.2" y="1911.5" font-size="19.5" text-anchor="middle" fill="#1a1a1a" >GeneRatio</text>
<text x="802" y="1400.3" font-size="27.2" text-anchor="start" fill="#1a1a1a" >SoftCore</text>
<line x1="1655.26" y1="1416.1" x2="1655.26" y2="1869" stroke="#ebebeb" stroke-width="2"/>
<line x1="1731.94" y1="1416.1" x2="1731.94" y2="1869" stroke="#ebebeb" stroke-width="2"/>
<line x1="1808.61" y1="1416.1" x2="1808.61" y2="1869" stroke="#ebebeb" stroke-width="2"/>
<line x1="1885.29" y1="1416.1" x2="1885.29" y2="1869" stroke="#ebebeb" stroke-width="2"/>
<line x1="1961.96" y1="1416.1" x2="1961.96" y2="1869" stroke="#ebebeb" stroke-width="2"/>
<line x1="2038.64" y1="1416.1" x2="2038.64" y2="1869" stroke="#ebebeb" stroke-width="2"/>
<line x1="1693.6" y1="1416.1" x2="1693.6" y2="1869" stroke="#ebebeb" stroke-width="3.2"/>
<line x1="1770.28" y1="1416.1" x2="1770.28" y2="1869" stroke="#ebebeb" stroke-width="3.2"/>
<line x1="1846.95" y1="1416.1" x2="1846.95" y2="1869" stroke="#ebebeb" stroke-width="3.2"/>
<line x1="1923.62" y1="1416.1" x2="1923.62" y2="1869" stroke="#ebebeb" stroke-width="3.2"/>
<line x1="2000.3" y1="1416.1" x2="2000.3" y2="1869" stroke="#ebebeb" stroke-width="3.2"/>
<line x1="1634.5" y1="1441.7" x2="2047.7" y2="1441.7" stroke="#ebebeb" stroke-width="4"/>
<line x1="1634.5" y1="1486.17" x2="2047.7" y2="1486.17" stroke="#ebebeb" stroke-width="4"/>
<line x1="1634.5" y1="1530.64" x2="2047.7" y2="1530.64" stroke="#ebebeb" stroke-width="4"/>
<line x1="1634.5" y1="1575.11" x2="2047.7" y2="1575.11" stroke="#ebebeb" stroke-width="4"/>
<line x1="1634.5" y1="1619.58" x2="2047.7" y2="1619.58" stroke="#ebebeb" stroke-width="4"/>
<line x1="1634.5" y1="1664.05" x2="2047.7" y2="1664.05" stroke="#ebebeb" stroke-width="4"/>
<line x1="1634.5" y1="1708.52" x2="2047.7" y2="1708.52" stroke="#ebebeb" stroke-width="4"/>
<line x1="1634.5" y1="1752.99" x2="2047.7" y2="1752.99" stroke="#ebebeb" stroke-width="4"/>
<line x1="1634.5" y1="1797.46" x2="2047.7" y2="1797.46" stroke="#ebebeb" stroke-width="4"/>
<line x1="1634.5" y1="1841.93" x2="2047.7" y2="1841.93" stroke="#ebebeb" stroke-width="4"/>
<circle cx="2028.7" cy="1441.7" r="16.2" fill="#ea2820"/>
<circle cx="1997" cy="1486.17" r="16" fill="#ea2820"/>
<circle cx="1965.9" cy="1530.64" r="15.2" fill="#ea2820"/>
<circle cx="1946.8" cy="1575.11" r="14.8" fill="#ea2820"/>
<circle cx="1878" cy="1619.58" r="14.4" fill="#ea2820"/>
<circle cx="1878" cy="1664.05" r="14.4" fill="#ea2820"/>
<circle cx="1765.3" cy="1708.52" r="12.8" fill="#ea2820"/>
<circle cx="1653.1" cy="1752.99" r="8.5" fill="#3252a5"/>
<circle cx="1653.1" cy="1797.46" r="8.5" fill="#3252a5"/>
<circle cx="1653.1" cy="1841.93" r="8.5" fill="#3252a5"/>
<rect x="1634.5" y="1416.1" width="413.2" height="452.9" fill="none" stroke="#262626" stroke-width="2.3"/>
<line x1="1630" y1="1441.7" x2="1634.5" y2="1441.7" stroke="#262626" stroke-width="3.6"/>
<line x1="1630" y1="1486.17" x2="1634.5" y2="1486.17" stroke="#262626" stroke-width="3.6"/>
<line x1="1630" y1="1530.64" x2="1634.5" y2="1530.64" stroke="#262626" stroke-width="3.6"/>
<line x1="1630" y1="1575.11" x2="1634.5" y2="1575.11" stroke="#262626" stroke-width="3.6"/>
<line x1="1630" y1="1619.58" x2="1634.5" y2="1619.58" stroke="#262626" stroke-width="3.6"/>
<line x1="1630" y1="1664.05" x2="1634.5" y2="1664.05" stroke="#262626" stroke-width="3.6"/>
<line x1="1630" y1="1708.52" x2="1634.5" y2="1708.52" stroke="#262626" stroke-width="3.6"/>
<line x1="1630" y1="1752.99" x2="1634.5" y2="1752.99" stroke="#262626" stroke-width="3.6"/>
<line x1="1630" y1="1797.46" x2="1634.5" y2="1797.46" stroke="#262626" stroke-width="3.6"/>
<line x1="1630" y1="1841.93" x2="1634.5" y2="1841.93" stroke="#262626" stroke-width="3.6"/>
<line x1="1693.6" y1="1869" x2="1693.6" y2="1874" stroke="#262626" stroke-width="3.8"/>
<line x1="1770.28" y1="1869" x2="1770.28" y2="1874" stroke="#262626" stroke-width="3.8"/>
<line x1="1846.95" y1="1869" x2="1846.95" y2="1874" stroke="#262626" stroke-width="3.8"/>
<line x1="1923.62" y1="1869" x2="1923.62" y2="1874" stroke="#262626" stroke-width="3.8"/>
<line x1="2000.3" y1="1869" x2="2000.3" y2="1874" stroke="#262626" stroke-width="3.8"/>
<text x="1624.8" y="1438.9" font-size="19.5" text-anchor="end" fill="#1a1a1a" >2−hydroxyglutarate</text>
<text x="1624.8" y="1456.3" font-size="19.5" text-anchor="end" fill="#1a1a1a" >dehydrogenase activity</text>
<text x="1623.6" y="1492.3" font-size="19.5" text-anchor="end" fill="#1a1a1a" >carotene biosynthetic</text>
<text x="1628.4" y="1507.7" font-size="19.5" text-anchor="end" fill="#1a1a1a" >process</text>
<text x="1624.8" y="1527.84" font-size="19.5" text-anchor="end" fill="#1a1a1a" >inositol monophosphate</text>
<text x="1624.8" y="1545.24" font-size="19.5" text-anchor="end" fill="#1a1a1a" >phosphatase activity</text>
<text x="1624.8" y="1581.01" font-size="19.5" text-anchor="end" fill="#1a1a1a" >inositol biosynthetic process</text>
<text x="1624.8" y="1608.08" font-size="19.5" text-anchor="end" fill="#1a1a1a" >obsolete regulation of ER to</text>
<text x="1624.8" y="1625.48" font-size="19.5" text-anchor="end" fill="#1a1a1a" >Golgi vesicle−mediated</text>
<text x="1624.8" y="1642.88" font-size="19.5" text-anchor="end" fill="#1a1a1a" >transport by GTP hydrolysis</text>
<text x="1624.8" y="1661.25" font-size="19.5" text-anchor="end" fill="#1a1a1a" >regulation of COPII vesicle</text>
<text x="1624.8" y="1678.65" font-size="19.5" text-anchor="end" fill="#1a1a1a" >coating</text>
<text x="1624.8" y="1705.72" font-size="19.5" text-anchor="end" fill="#1a1a1a" >guanyl−nucleotide exchange</text>
<text x="1624.8" y="1723.12" font-size="19.5" text-anchor="end" fill="#1a1a1a" >factor activity</text>
<text x="1624.8" y="1750.19" font-size="19.5" text-anchor="end" fill="#1a1a1a" >UDP−N−acetylgalactosamine</text>
<text x="1624.8" y="1767.59" font-size="19.5" text-anchor="end" fill="#1a1a1a" >diphosphorylase activity</text>
<text x="1624.8" y="1794.66" font-size="19.5" text-anchor="end" fill="#1a1a1a" >UDP−N−acetylgalactosamine</text>
<text x="1624.8" y="1812.06" font-size="19.5" text-anchor="end" fill="#1a1a1a" >metabolic process</text>
<text x="1624.8" y="1839.13" font-size="19.5" text-anchor="end" fill="#1a1a1a" >UDP−N−acetylglucosamine</text>
<text x="1624.8" y="1856.53" font-size="19.5" text-anchor="end" fill="#1a1a1a" >diphosphorylase activity</text>
<text x="1691.4" y="1889.4" font-size="19.4" text-anchor="middle" fill="#1a1a1a" >0.00036</text>
<text x="1772.5" y="1889.4" font-size="19.4" text-anchor="middle" fill="#1a1a1a" >0.00037</text>
<text x="1849" y="1889.4" font-size="19.4" text-anchor="middle" fill="#1a1a1a" >0.00038</text>
<text x="1925.5" y="1889.4" font-size="19.4" text-anchor="middle" fill="#1a1a1a" >0.00039</text>
<text x="2003" y="1889.4" font-size="19.4" text-anchor="middle" fill="#1a1a1a" >0.00040</text>
<text x="1838.3" y="1911.5" font-size="19.5" text-anchor="middle" fill="#1a1a1a" >GeneRatio</text>
<text x="1634.9" y="1399.9" font-size="27.2" text-anchor="start" fill="#1a1a1a" >Dispensable</text>
<text x="1241.3" y="780.9" font-size="16.7" fill="#1a1a1a"><tspan font-style="italic">P</tspan>.adjust</text>
<defs><linearGradient id="gd" x1="0" y1="0" x2="0" y2="1"><stop offset="0" stop-color="#3a4fa6"/><stop offset="0.25" stop-color="#6b3aa6"/><stop offset="0.5" stop-color="#b42a9b"/><stop offset="0.75" stop-color="#d8265c"/><stop offset="1" stop-color="#ea2828"/></linearGradient></defs>
<rect x="1241" y="793.9" width="23.3" height="115.7" fill="url(#gd)" stroke="none" stroke-width="0"/>
<line x1="1256.61" y1="822.8" x2="1264.3" y2="822.8" stroke="#ffffff" stroke-width="1.4"/>
<line x1="1256.61" y1="851.7" x2="1264.3" y2="851.7" stroke="#ffffff" stroke-width="1.4"/>
<line x1="1256.61" y1="880.6" x2="1264.3" y2="880.6" stroke="#ffffff" stroke-width="1.4"/>
<text x="1275.3" y="798.9" font-size="16.5" fill="#1a1a1a">1.13E<tspan font-size="9.73" dy="-4.95">−225</tspan></text>
<text x="1275.3" y="827.8" font-size="16.5" fill="#1a1a1a">8.52E<tspan font-size="9.73" dy="-4.95">−226</tspan></text>
<text x="1275.3" y="857.1" font-size="16.5" fill="#1a1a1a">5.68E<tspan font-size="9.73" dy="-4.95">−226</tspan></text>
<text x="1275.3" y="886.6" font-size="16.5" fill="#1a1a1a">2.84E<tspan font-size="9.73" dy="-4.95">−226</tspan></text>
<text x="1275.3" y="915.5" font-size="16.5" fill="#1a1a1a">2.52E<tspan font-size="9.73" dy="-4.95">−270</tspan></text>
<text x="1241.3" y="967.6" font-size="16.7" text-anchor="start" fill="#1a1a1a" >Count</text>
<circle cx="1259.3" cy="991.7" r="8.8" fill="#000000"/>
<text x="1286.3" y="998.72" font-size="19.6" text-anchor="start" fill="#1a1a1a" >400</text>
<circle cx="1259.3" cy="1017.8" r="12.8" fill="#000000"/>
<text x="1286.3" y="1024.82" font-size="19.6" text-anchor="start" fill="#1a1a1a" >420</text>
<circle cx="1259.3" cy="1049" r="14.3" fill="#000000"/>
<text x="1286.3" y="1056.02" font-size="19.6" text-anchor="start" fill="#1a1a1a" >440</text>
<circle cx="1259.3" cy="1081.1" r="15.4" fill="#000000"/>
<text x="1286.3" y="1088.12" font-size="19.6" text-anchor="start" fill="#1a1a1a" >460</text>
<text x="2066" y="801" font-size="19.1" fill="#1a1a1a"><tspan font-style="italic">P</tspan>.adjust</text>
<defs><linearGradient id="gf" x1="0" y1="0" x2="0" y2="1"><stop offset="0" stop-color="#3a4fa6"/><stop offset="0.25" stop-color="#6b3aa6"/><stop offset="0.5" stop-color="#b42a9b"/><stop offset="0.75" stop-color="#d8265c"/><stop offset="1" stop-color="#ea2828"/></linearGradient></defs>
<rect x="2066.2" y="814.2" width="22.5" height="116.4" fill="url(#gf)" stroke="none" stroke-width="0"/>
<line x1="2084.2" y1="840.5" x2="2088.7" y2="840.5" stroke="#ffffff" stroke-width="1.4"/>
<line x1="2066.2" y1="840.5" x2="2070.7" y2="840.5" stroke="#ffffff" stroke-width="1.4"/>
<line x1="2084.2" y1="870.5" x2="2088.7" y2="870.5" stroke="#ffffff" stroke-width="1.4"/>
<line x1="2066.2" y1="870.5" x2="2070.7" y2="870.5" stroke="#ffffff" stroke-width="1.4"/>
<line x1="2084.2" y1="901.3" x2="2088.7" y2="901.3" stroke="#ffffff" stroke-width="1.4"/>
<line x1="2066.2" y1="901.3" x2="2070.7" y2="901.3" stroke="#ffffff" stroke-width="1.4"/>
<text x="2098.5" y="847.5" font-size="19.7" fill="#1a1a1a">6.00E<tspan font-size="11.62" dy="-5.91">−11</tspan></text>
<text x="2098.5" y="877.8" font-size="19.7" fill="#1a1a1a">4.00E<tspan font-size="11.62" dy="-5.91">−11</tspan></text>
<text x="2098.5" y="908" font-size="19.7" fill="#1a1a1a">2.00E<tspan font-size="11.62" dy="-5.91">−11</tspan></text>
<text x="2066" y="978" font-size="19.2" text-anchor="start" fill="#1a1a1a" >Count</text>
<circle cx="2082" cy="1005.8" r="14.1" fill="#000000"/>
<text x="2108" y="1012.82" font-size="19.6" text-anchor="start" fill="#1a1a1a" >6</text>
<text x="1227" y="1448.6" font-size="19.2" text-anchor="start" fill="#1a1a1a" >Count</text>
<circle cx="1246.1" cy="1472.8" r="9.7" fill="#000000"/>
<text x="1275" y="1479.82" font-size="19.6" text-anchor="start" fill="#1a1a1a" >280</text>
<circle cx="1246.1" cy="1498.7" r="12" fill="#000000"/>
<text x="1275" y="1505.72" font-size="19.6" text-anchor="start" fill="#1a1a1a" >300</text>
<circle cx="1246.1" cy="1527.5" r="13.4" fill="#000000"/>
<text x="1275" y="1534.52" font-size="19.6" text-anchor="start" fill="#1a1a1a" >320</text>
<circle cx="1246.1" cy="1560.1" r="14.5" fill="#000000"/>
<text x="1275" y="1567.12" font-size="19.6" text-anchor="start" fill="#1a1a1a" >340</text>
<circle cx="1246.1" cy="1594.6" r="15.2" fill="#000000"/>
<text x="1275" y="1601.62" font-size="19.6" text-anchor="start" fill="#1a1a1a" >360</text>
<circle cx="1246.1" cy="1632" r="16.4" fill="#000000"/>
<text x="1275" y="1639.02" font-size="19.6" text-anchor="start" fill="#1a1a1a" >380</text>
<text x="1225" y="1687.4" font-size="19.1" fill="#1a1a1a"><tspan font-style="italic">P</tspan>.adjust</text>
<defs><linearGradient id="ge" x1="0" y1="0" x2="0" y2="1"><stop offset="0" stop-color="#3a4fa6"/><stop offset="0.25" stop-color="#6b3aa6"/><stop offset="0.5" stop-color="#b42a9b"/><stop offset="0.75" stop-color="#d8265c"/><stop offset="1" stop-color="#ea2828"/></linearGradient></defs>
<rect x="1224.1" y="1704.4" width="22.8" height="115.1" fill="url(#ge)" stroke="none" stroke-width="0"/>
<line x1="1239.38" y1="1733.2" x2="1246.9" y2="1733.2" stroke="#ffffff" stroke-width="1.4"/>
<line x1="1239.38" y1="1762" x2="1246.9" y2="1762" stroke="#ffffff" stroke-width="1.4"/>
<line x1="1239.38" y1="1790.8" x2="1246.9" y2="1790.8" stroke="#ffffff" stroke-width="1.4"/>
<text x="1258" y="1709" font-size="19.4" fill="#1a1a1a">1.10E<tspan font-size="11.45" dy="-5.82">−194</tspan></text>
<text x="1258" y="1737.6" font-size="19.4" fill="#1a1a1a">8.29E<tspan font-size="11.45" dy="-5.82">−195</tspan></text>
<text x="1258" y="1766.6" font-size="19.4" fill="#1a1a1a">5.52E<tspan font-size="11.45" dy="-5.82">−195</tspan></text>
<text x="1258" y="1795.6" font-size="19.4" fill="#1a1a1a">2.76E<tspan font-size="11.45" dy="-5.82">−195</tspan></text>
<text x="1258" y="1824.8" font-size="19.4" fill="#1a1a1a">1.04E<tspan font-size="11.45" dy="-5.82">−260</tspan></text>
<text x="2058" y="1505.3" font-size="19.2" text-anchor="start" fill="#1a1a1a" >Count</text>
<circle cx="2076" cy="1529.2" r="11" fill="#000000"/>
<text x="2103.6" y="1536.25" font-size="19.7" text-anchor="start" fill="#1a1a1a" >440</text>
<circle cx="2076" cy="1557.5" r="14" fill="#000000"/>
<text x="2103.6" y="1564.55" font-size="19.7" text-anchor="start" fill="#1a1a1a" >460</text>
<circle cx="2076" cy="1591.1" r="15.5" fill="#000000"/>
<text x="2103.6" y="1598.15" font-size="19.7" text-anchor="start" fill="#1a1a1a" >480</text>
<text x="2058.5" y="1660.6" font-size="19.1" fill="#1a1a1a"><tspan font-style="italic">P</tspan>.adjust</text>
<defs><linearGradient id="gg" x1="0" y1="0" x2="0" y2="1"><stop offset="0" stop-color="#3a4fa6"/><stop offset="0.25" stop-color="#6b3aa6"/><stop offset="0.5" stop-color="#b42a9b"/><stop offset="0.75" stop-color="#d8265c"/><stop offset="1" stop-color="#ea2828"/></linearGradient></defs>
<rect x="2058.2" y="1679.4" width="23.1" height="115.5" fill="url(#gg)" stroke="none" stroke-width="0"/>
<line x1="2073.68" y1="1708.3" x2="2081.3" y2="1708.3" stroke="#ffffff" stroke-width="1.4"/>
<line x1="2073.68" y1="1737.2" x2="2081.3" y2="1737.2" stroke="#ffffff" stroke-width="1.4"/>
<line x1="2073.68" y1="1766.1" x2="2081.3" y2="1766.1" stroke="#ffffff" stroke-width="1.4"/>
<text x="2092.2" y="1685" font-size="19.5" fill="#1a1a1a">1.15E<tspan font-size="11.5" dy="-5.85">−109</tspan></text>
<text x="2092.2" y="1714" font-size="19.5" fill="#1a1a1a">8.67E<tspan font-size="11.5" dy="-5.85">−110</tspan></text>
<text x="2092.2" y="1743" font-size="19.5" fill="#1a1a1a">5.78E<tspan font-size="11.5" dy="-5.85">−110</tspan></text>
<text x="2092.2" y="1772" font-size="19.5" fill="#1a1a1a">2.89E<tspan font-size="11.5" dy="-5.85">−110</tspan></text>
<text x="2092.2" y="1801.2" font-size="19.5" fill="#1a1a1a">1.02E<tspan font-size="11.5" dy="-5.85">−121</tspan></text>
<text transform="translate(2.43,31.3) scale(0.92,1)" x="0" y="0" font-size="57.5" font-weight="bold" fill="#231815">a</text>
<text transform="translate(1.04,662.2) scale(1.03,1)" x="0" y="0" font-size="58.2" font-weight="bold" fill="#231815">b</text>
<text transform="translate(0.54,1362.7) scale(0.99,1)" x="0" y="0" font-size="58.7" font-weight="bold" fill="#231815">c</text>
<text transform="translate(679.6,662) scale(1.01,1)" x="0" y="0" font-size="58" font-weight="bold" fill="#231815">d</text>
<text transform="translate(682.5,1362) scale(1.0,1)" x="0" y="0" font-size="59.2" font-weight="bold" fill="#231815">e</text>
<text transform="translate(1522.25,661.9) scale(1.046,1)" x="0" y="0" font-size="59.1" font-weight="bold" fill="#231815">f</text>
<text transform="translate(1511.4,1362.3) scale(1.02,1)" x="0" y="0" font-size="57.6" font-weight="bold" fill="#231815">g</text>
</svg></body></html>
